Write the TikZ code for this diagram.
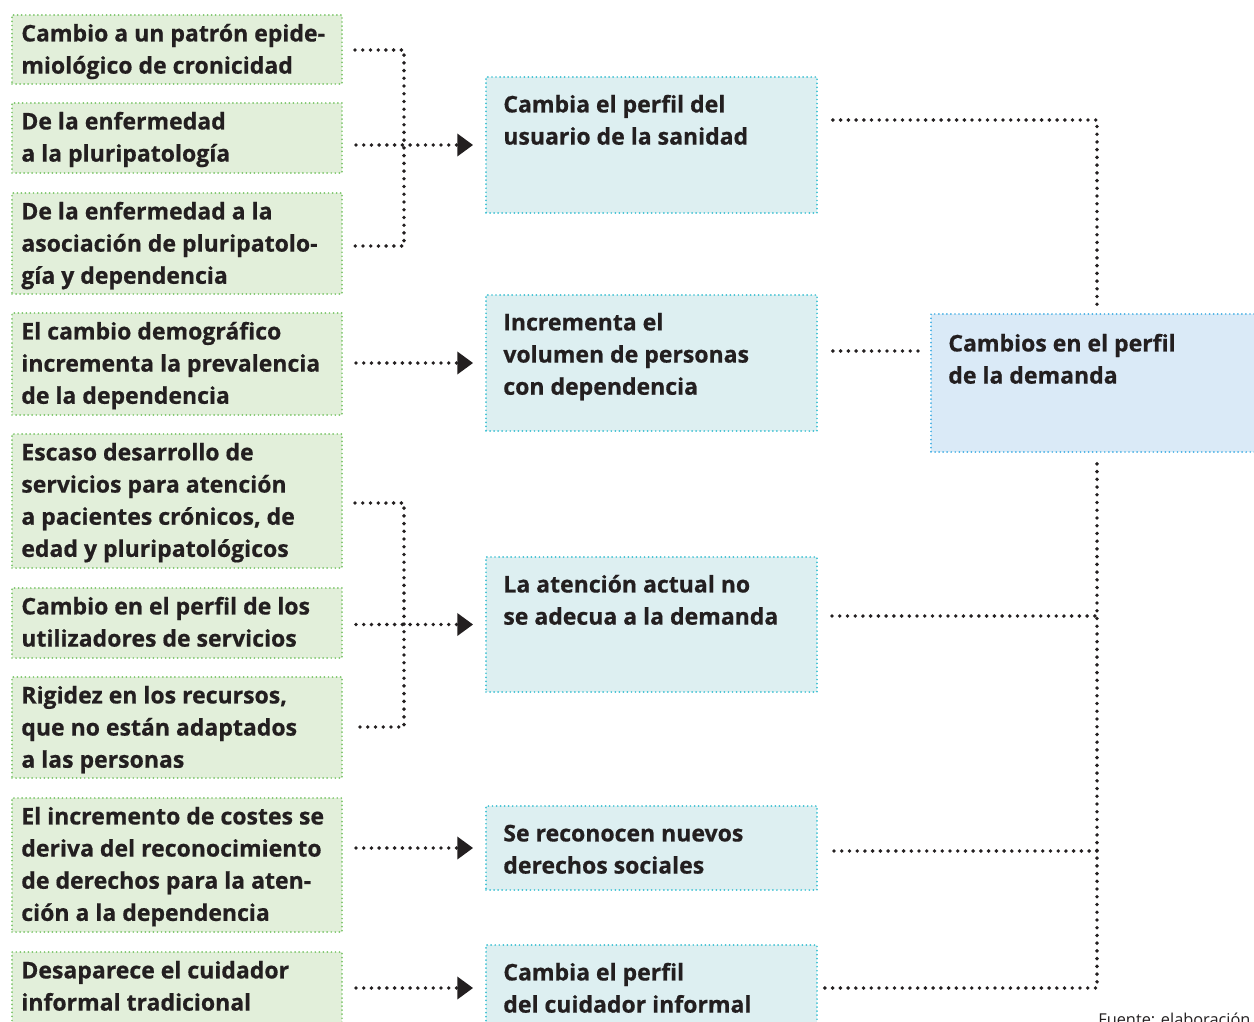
\documentclass[tikz,border=0pt]{standalone}
\usepackage{fontspec}
\setmainfont{Open Sans}[BoldFeatures={FakeBold=0.6}]
\usetikzlibrary{arrows.meta,fit}
\definecolor{gfill}{HTML}{E2EFDA}
\definecolor{gline}{HTML}{7CC66A}
\definecolor{mfill}{HTML}{DDEFF1}
\definecolor{mline}{HTML}{3EC1D3}
\definecolor{rfill}{HTML}{DAEAF7}
\definecolor{rline}{HTML}{45B0E5}
\definecolor{ink}{HTML}{231F20}
\tikzset{
  boxbase/.style={inner sep=0pt, line width=1.1pt, dash pattern=on 0pt off 2.3pt, line cap=round},
  gbox/.style={boxbase, draw=gline, fill=gfill},
  mbox/.style={boxbase, draw=mline, fill=mfill},
  rbox/.style={boxbase, draw=rline, fill=rfill},
  txt/.style={anchor=north west, inner sep=0pt, align=left, text=ink,
    font={\fontsize{13.1}{18.3}\selectfont\bfseries}},
  dotline/.style={draw=ink, line width=2.2pt, dash pattern=on 0pt off 4.4pt, line cap=round},
  arr/.style={dotline, -{Triangle[length=9pt,width=12.5pt,line cap=butt]}},
}
\newcommand{\st}{\rule{0pt}{10pt}}
\begin{document}
\begin{tikzpicture}[x=0.02cm,y=-0.02cm]
\clip (0,0) rectangle (1254,1021);
\fill[white] (0,0) rectangle (1254,1021);
% left boxes
\node[gbox, fit={(12,15) (342,84)}] (L1) {};
\node[gbox, fit={(12,103) (342,173)}] (L2) {};
\node[gbox, fit={(12,193) (342,294)}] (L3) {};
\node[gbox, fit={(12,313) (342,415)}] (L4) {};
\node[gbox, fit={(12,434) (342,568)}] (L5) {};
\node[gbox, fit={(12,588) (342,658)}] (L6) {};
\node[gbox, fit={(12,677) (342,778)}] (L7) {};
\node[gbox, fit={(12,798) (342,932)}] (L8) {};
\node[gbox, fit={(12,952) (342,1060)}] (L9) {};
\node[txt] (L1t) at (21,23.5) {\st Cambio a un patrón epide-\\miológico de cronicidad};
\node[txt] (L2t) at (21,111.5) {\st De la enfermedad\\a la pluripatología};
\node[txt] (L3t) at (21,201.5) {\st De la enfermedad a la\\asociación de pluripatolo-\\gía y dependencia};
\node[txt] (L4t) at (21,321.5) {\st El cambio demográfico\\incrementa la prevalencia\\de la dependencia};
\node[txt] (L5t) at (21,442.5) {\st Escaso desarrollo de\\servicios para atención\\a pacientes crónicos, de\\edad y pluripatológicos};
\node[txt] (L6t) at (21,596.5) {\st Cambio en el perfil de los\\utilizadores de servicios};
\node[txt] (L7t) at (21,685.5) {\st Rigidez en los recursos,\\que no están adaptados\\a las personas};
\node[txt] (L8t) at (21,806.5) {\st El incremento de costes se\\deriva del reconocimiento\\de derechos para la aten-\\ción a la dependencia};
\node[txt] (L9t) at (21,960.5) {\st Desaparece el cuidador\\informal tradicional};
% middle boxes
\node[mbox, fit={(486,77) (817,213)}] (M1) {};
\node[mbox, fit={(486,295) (817,431)}] (M2) {};
\node[mbox, fit={(486,557) (817,692)}] (M3) {};
\node[mbox, fit={(486,806) (817,890)}] (M4) {};
\node[mbox, fit={(486,945) (817,1060)}] (M5) {};
\node[txt] (M1t) at (503,94.5) {\st Cambia el perfil del\\usuario de la sanidad};
\node[txt] (M2t) at (503,312.5) {\st Incrementa el\\volumen de personas\\con dependencia};
\node[txt] (M3t) at (503,574.5) {\st La atención actual no\\se adecua a la demanda};
\node[txt] (M4t) at (503,823.5) {\st Se reconocen nuevos\\derechos sociales};
\node[txt] (M5t) at (503,962.5) {\st Cambia el perfil\\del cuidador informal};
% right box
\node[rbox, fit={(931,314) (1270,452)}] (R) {};
\node[txt] (Rt) at (948,333.5) {\st Cambios en el perfil\\de la demanda};
% source note
\node[anchor=north west, inner sep=0pt, text=ink, font={\fontsize{9.3}{11}\selectfont}] (src) at (1098,1012.5) {Fuente: elaboración};
% junction coordinates
\coordinate (jA) at (404,50);
\coordinate (jB) at (404,246);
\coordinate (jC) at (404,503);
\coordinate (jD) at (404,727);
\coordinate (col) at (1097,0);
% left connectors
\draw[dotline] (355,50) -- (jA) -- (jB) -- (355,246);
\draw[arr, shorten <=7.4pt, shorten >=6.8pt] (L2.east |- M1.west) -- (M1.west);
\draw[arr, shorten <=7.4pt, shorten >=6.8pt] (L4.east |- M2.west) -- (M2.west);
\draw[dotline] (355,503) -- (jC) -- (jD) -- (355,727);
\draw[arr, shorten <=7.4pt, shorten >=6.8pt] (L6.east |- M3.west) -- (M3.west);
\draw[arr, shorten <=7.4pt, shorten >=6.8pt] (L8.east |- M4.west) -- (M4.west);
\draw[arr, shorten <=7.4pt, shorten >=6.8pt] (L9.east |- 0,988) -- (M5.west |- 0,988);
% right connectors
\draw[dotline, shorten <=8.5pt, shorten >=4.5pt] (M1.east |- 0,120) -| (R.north -| col);
\draw[dotline, shorten <=8.5pt, shorten >=5pt] (M2.east |- 0,351) -- (R.west |- 0,351);
\draw[dotline, shorten <=6.2pt] (R.south -| col) -- (col |- 0,988) -- (M5.east |- 0,988);
\draw[dotline] (832,616) -- (col |- 0,616);
\draw[dotline] (834,851) -- (col |- 0,851);
\end{tikzpicture}
\end{document}
